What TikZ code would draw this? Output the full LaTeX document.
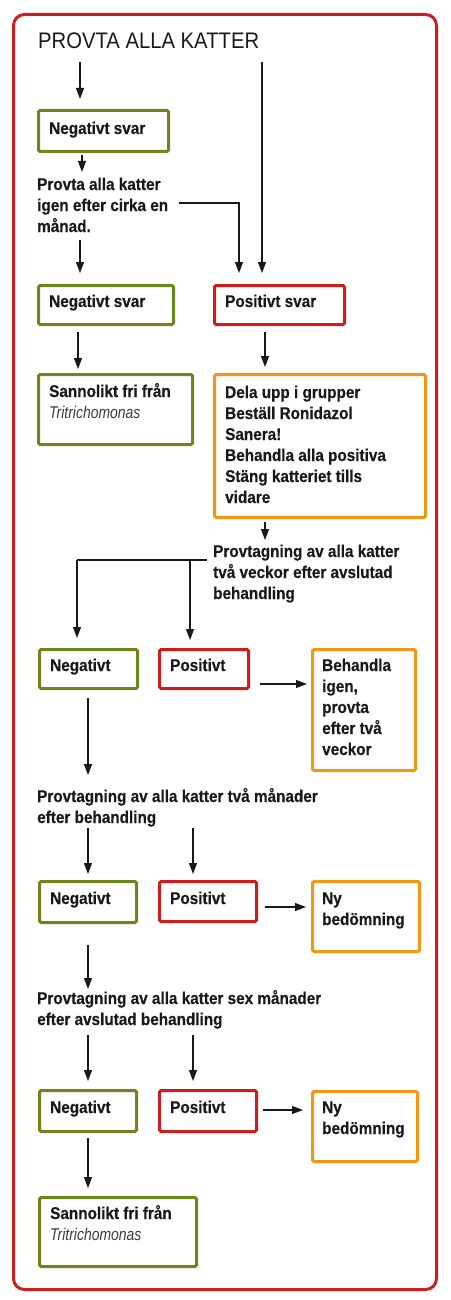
\documentclass[tikz,border=0pt]{standalone}
\usepackage{fontspec}
\usetikzlibrary{arrows.meta,calc}
\newfontfamily\bodyfont{Liberation Sans}[FakeStretch=0.9,FakeBold=0.4]
\newfontfamily\itfont{Liberation Sans}[FakeStretch=0.82]
\newfontfamily\titlefont{Liberation Sans}[FakeStretch=0.9]
\definecolor{fgreen}{RGB}{108,134,30}
\definecolor{fred}{RGB}{204,30,30}
\definecolor{forange}{RGB}{240,152,20}
\definecolor{ftext}{RGB}{25,25,25}
\newcommand\ml[1]{\begin{tabular}[t]{@{}l@{}}#1\end{tabular}}
\begin{document}
\begin{tikzpicture}[x=1pt,y=-1pt,
  box/.style={draw, line width=3pt, rounded corners=1.5pt, inner sep=0pt, anchor=north west},
  gbox/.style={box, draw=fgreen},
  rbox/.style={box, draw=fred},
  obox/.style={box, draw=forange},
  txt/.style={anchor=base west, inner sep=0pt, text=ftext, font=\bodyfont\bfseries\fontsize{17}{21}\selectfont},
  arr/.style={line width=1.1pt, draw=ftext, -{Triangle[length=11pt,width=8pt]}},
  ln/.style={line width=1.1pt, draw=ftext}]
\useasboundingbox (0,0) rectangle (450,1300);
\draw[fred, line width=3pt, rounded corners=11pt] (13.5,14.5) rectangle (436.5,1289.5);

\node[anchor=base west, inner sep=0pt, text=ftext, font=\titlefont\fontsize{22.5}{26}\selectfont] (title) at (38,49) {PROVTA ALLA KATTER};

% boxes
\node[gbox, minimum width=130pt, minimum height=41pt] (neg1) at (37,109) {};
\node[gbox, minimum width=135pt, minimum height=39pt] (neg2) at (37,284) {};
\node[rbox, minimum width=130pt, minimum height=39pt] (pos2) at (213,284) {};
\node[gbox, minimum width=154pt, minimum height=70pt] (san1) at (37,373) {};
\node[obox, minimum width=211pt, minimum height=143pt] (dela) at (213,373) {};
\node[gbox, minimum width=98pt, minimum height=39pt] (neg3) at (38,648) {};
\node[rbox, minimum width=89pt, minimum height=39pt] (pos3) at (158,648) {};
\node[obox, minimum width=103pt, minimum height=121pt] (beh) at (311,648) {};
\node[gbox, minimum width=97pt, minimum height=41pt] (neg4) at (38,880) {};
\node[rbox, minimum width=97pt, minimum height=40pt] (pos4) at (158,880) {};
\node[obox, minimum width=107pt, minimum height=70pt] (ny4) at (311,880) {};
\node[gbox, minimum width=97pt, minimum height=41pt] (neg5) at (38,1089) {};
\node[rbox, minimum width=97pt, minimum height=41pt] (pos5) at (158,1089) {};
\node[obox, minimum width=105pt, minimum height=70pt] (ny5) at (311,1090) {};
\node[gbox, minimum width=157pt, minimum height=69pt] (san2) at (38,1196) {};

% box texts
\node[txt] (tneg1) at (49,134) {Negativt svar};
\node[txt] (tneg2) at (49,307) {Negativt svar};
\node[txt] (tpos2) at (225,307) {Positivt svar};
\node[txt] (tsan1) at (49,397) {\ml{Sannolikt fri från\\{\itfont\mdseries\itshape\color{ftext!85}Tritrichomonas}}};
\node[txt] (tdela) at (225,398) {\ml{Dela upp i grupper\\Beställ Ronidazol\\Sanera!\\Behandla alla positiva\\Stäng katteriet tills\\vidare}};
\node[txt] (tneg3) at (50,671) {Negativt};
\node[txt] (tpos3) at (170,671) {Positivt};
\node[txt] (tbeh) at (322,671) {\ml{Behandla\\igen,\\provta\\efter två\\veckor}};
\node[txt] (tneg4) at (50,904) {Negativt};
\node[txt] (tpos4) at (170,904) {Positivt};
\node[txt] (tny4) at (322,904) {\ml{Ny\\bedömning}};
\node[txt] (tneg5) at (50,1113) {Negativt};
\node[txt] (tpos5) at (170,1113) {Positivt};
\node[txt] (tny5) at (322,1113) {\ml{Ny\\bedömning}};
\node[txt] (tsan2) at (50,1219) {\ml{Sannolikt fri från\\{\itfont\mdseries\itshape\color{ftext!85}Tritrichomonas}}};

% free texts
\node[txt] (t1) at (37,190) {\ml{Provta alla katter\\igen efter cirka en\\månad.}};
\node[txt] (t2) at (213,557) {\ml{Provtagning av alla katter\\två veckor efter avslutad\\behandling}};
\node[txt] (t3) at (37,802) {\ml{Provtagning av alla katter två månader\\efter behandling}};
\node[txt] (t4) at (37,1004) {\ml{Provtagning av alla katter sex månader\\efter avslutad behandling}};

% connector coordinates
\coordinate (c1) at (80,62);
\coordinate (c2) at (262,62);
\coordinate (c3) at (82,155);
\coordinate (c4) at (80,240);
\coordinate (c5) at (179,203);
\coordinate (c6) at (78,332);
\coordinate (c7) at (265,332);
\coordinate (c8) at (265,522);
\coordinate (c9) at (207,560);
\coordinate (c10) at (260,684);
\coordinate (c11) at (88,698);
\coordinate (c12) at (88,828);
\coordinate (c13) at (193,828);
\coordinate (c14) at (265,907);
\coordinate (c15) at (88,945);
\coordinate (c16) at (88,1035);
\coordinate (c17) at (193,1035);
\coordinate (c18) at (263,1110);
\coordinate (c19) at (88,1138);

\draw[arr, shorten >=10pt] (c1) -- (c1 |- neg1.north);
\draw[arr, shorten >=11pt] (c2) -- (c2 |- pos2.north);
\draw[arr] (c3) -- (82,172);
\draw[arr, shorten >=11pt] (c4) -- (c4 |- neg2.north);
\draw[arr, shorten >=11pt] (c5) -- (239,203) -- (239,203 |- pos2.north);
\draw[arr, shorten >=4pt] (c6) -- (c6 |- san1.north);
\draw[arr, shorten >=6pt] (c7) -- (c7 |- dela.north);
\draw[arr] (c8) -- (265,540);
\draw[ln] (c9) -- (77,560);
\draw[arr, shorten >=10pt] (77,560) -- (77,560 |- neg3.north);
\draw[arr, shorten >=8pt] (190,560) -- (190,560 |- pos3.north);
\draw[arr, shorten >=4pt] (c10) -- (c10 -| beh.west);
\draw[arr] (c11) -- (88,775);
\draw[arr, shorten >=6pt] (c12) -- (c12 |- neg4.north);
\draw[arr, shorten >=6pt] (c13) -- (c13 |- pos4.north);
\draw[arr, shorten >=5pt] (c14) -- (c14 -| ny4.west);
\draw[arr] (c15) -- (88,989);
\draw[arr, shorten >=8pt] (c16) -- (c16 |- neg5.north);
\draw[arr, shorten >=8pt] (c17) -- (c17 |- pos5.north);
\draw[arr, shorten >=8pt] (c18) -- (c18 -| ny5.west);
\draw[arr, shorten >=8pt] (c19) -- (c19 |- san2.north);
\end{tikzpicture}
\end{document}
